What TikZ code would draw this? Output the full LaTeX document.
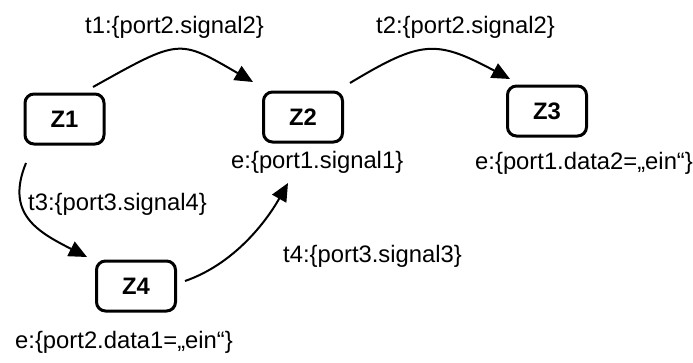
\documentclass[tikz,border=0pt]{standalone}
\usepackage{fontspec}
\setmainfont{Liberation Sans}
\usetikzlibrary{arrows.meta,calc}

\begin{document}
\begin{tikzpicture}[x=1pt,y=-1pt,
  every node/.style={font=\fontsize{23.8}{28}\selectfont},
  state/.style={draw,line width=3pt,rounded corners=9pt,
    minimum width=79pt,minimum height=50pt,inner sep=0pt,font=\fontsize{23.8}{28}\selectfont\bfseries},
  lbl/.style={anchor=base west,inner sep=0pt},
  trans/.style={line width=2pt,-{Triangle[length=18pt,width=16pt]}}]
\useasboundingbox (0,0) rectangle (693,362);

% states
\node[state] (z1) at (64.5,119) {Z1};
\node[state] (z2) at (303,117) {Z2};
\node[state] (z3) at (547,111) {Z3};
\node[state] (z4) at (136,286) {Z4};

% transitions
\draw[trans] ($(z1)+(28.5,-32)$) .. controls (180,38.5) and (178,38.5) .. ($(z2)+(-50,-35)$);
\draw[trans] ($(z2)+(47,-34)$) .. controls (422,39.7) and (436,39.7) .. ($(z3)+(-37,-32)$);
\draw[trans] ($(z1)+(-38.5,44)$) .. controls (5,214) and (38,232) .. ($(z4)+(-49,-29)$);
\draw[trans] ($(z4)+(49,-5)$) .. controls (234,264) and (266,222) .. ($(z2)+(-15,66)$);

% labels
\node[lbl] (l1) at (85,33) {t1:\{port2.signal2\}};
\node[lbl] (l2) at (376,33) {t2:\{port2.signal2\}};
\node[lbl] (l3) at (28,210) {t3:\{port3.signal4\}};
\node[lbl] (l4) at (283,262) {t4:\{port3.signal3\}};
\node[lbl] (e2) at (231,168) {e:\{port1.signal1\}};
\node[lbl] (e3) at (475,169) {e:\{port1.data2=„ein“\}};
\node[lbl] (e4) at (15,348) {e:\{port2.data1=„ein“\}};
\end{tikzpicture}
\end{document}
